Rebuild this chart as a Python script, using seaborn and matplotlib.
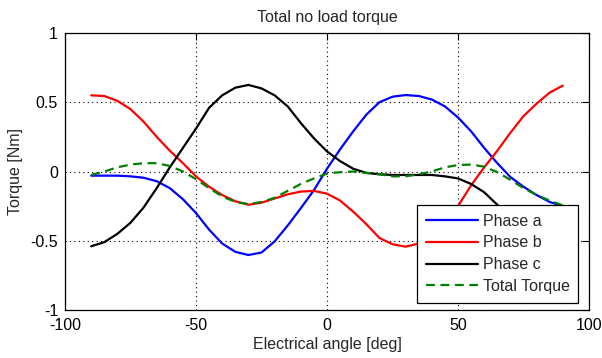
import numpy as np
import pandas as pd
import matplotlib
matplotlib.use("Agg")
import matplotlib.pyplot as plt
import seaborn as sns

angle = [-90, -85, -80, -75, -70, -65, -60, -55, -50, -45, -40, -35, -30, -25, -20,
         -15, -10, -5, 0, 5, 10, 15, 20, 25, 30, 35, 40, 45, 50, 55, 60, 65, 70, 75,
         80, 85, 90]
phase_a = [-0.03, -0.03, -0.03, -0.035, -0.045, -0.07, -0.12, -0.20, -0.30, -0.42,
           -0.52, -0.58, -0.603, -0.585, -0.505, -0.39, -0.265, -0.135, 0.02, 0.16,
           0.29, 0.41, 0.50, 0.54, 0.552, 0.545, 0.52, 0.47, 0.39, 0.29, 0.17, 0.06,
           -0.04, -0.11, -0.17, -0.22, -0.25]
phase_b = [0.55, 0.545, 0.51, 0.45, 0.36, 0.25, 0.15, 0.06, -0.035, -0.11, -0.17,
           -0.215, -0.24, -0.225, -0.195, -0.165, -0.145, -0.14, -0.16, -0.21, -0.29,
           -0.38, -0.48, -0.525, -0.543, -0.52, -0.45, -0.35, -0.25, -0.10, 0.03, 0.15,
           0.28, 0.40, 0.49, 0.57, 0.62]
phase_c = [-0.54, -0.51, -0.45, -0.37, -0.26, -0.12, 0.03, 0.17, 0.31, 0.46, 0.55,
           0.605, 0.625, 0.60, 0.55, 0.47, 0.35, 0.24, 0.145, 0.075, 0.02, -0.01, -0.02,
           -0.025, -0.025, -0.025, -0.025, -0.035, -0.05, -0.09, -0.15, -0.24, -0.36,
           -0.46, -0.52, -0.55, -0.55]
total = [-0.025, 0.0, 0.03, 0.05, 0.06, 0.06, 0.04, 0.0, -0.055, -0.12, -0.18, -0.22,
         -0.235, -0.22, -0.19, -0.14, -0.09, -0.05, -0.015, -0.005, 0.0, -0.01,
         -0.02, -0.035, -0.035, -0.02, 0.0, 0.03, 0.047, 0.05, 0.035, -0.005, -0.06,
         -0.12, -0.17, -0.21, -0.245]
series_names = ["Phase a", "Phase b", "Phase c", "Total Torque"]
x_ticks = [-100, -50, 0, 50, 100]
y_ticks = [-1, -0.5, 0, 0.5, 1]
y_tick_labels = ["-1", "-0.5", "0", "0.5", "1"]

sns.set_style("white")
plt.rcParams["font.family"] = ["Liberation Sans", "DejaVu Sans"]
plt.rcParams["axes.unicode_minus"] = False

fig = plt.figure(figsize=(6.02, 3.58), dpi=100)
ax = fig.add_axes([65 / 602, 1 - 310 / 358, 524 / 602, 277 / 358])

styles = [("#0000ff", "-"), ("#ff0000", "-"), ("#000000", "-"), ("#008000", "--")]
handles = []
for name, vals, (col, ls) in zip(series_names, [phase_a, phase_b, phase_c, total], styles):
    df = pd.DataFrame({"angle": angle, "torque": vals})
    sns.lineplot(data=df, x="angle", y="torque", ax=ax, color=col, linestyle=ls,
                 linewidth=1.6, label=name, legend=False)
    if ls == "--":
        ax.lines[-1].set_dashes((4, 2.5))
    handles.append(ax.lines[-1])

ax.set_xlim(-100, 100)
ax.set_ylim(-1, 1)
ax.set_xticks(x_ticks)
ax.set_yticks(y_ticks)
ax.set_yticklabels(y_tick_labels)
ax.grid(True, color="black", linestyle=(0, (1, 3)), linewidth=0.8)
ax.tick_params(direction="in", length=5, width=0.8, top=True, right=True,
               labelsize=11.5, colors="black")
ax.tick_params(axis="x", pad=6)
ax.tick_params(axis="y", pad=5)
for s in ax.spines.values():
    s.set_visible(True)
    s.set_color("black")
    s.set_linewidth(0.9)

ax.set_title("Total no load torque", fontsize=11.5, pad=8)
ax.set_xlabel("Electrical angle [deg]", fontsize=11.5, labelpad=3)
ax.set_ylabel("Torque [Nm]", fontsize=11.5, labelpad=5)

leg = ax.legend(handles, series_names, loc="lower right", fontsize=11.5,
                handlelength=3.25, handletextpad=0.3, borderpad=0.55,
                labelspacing=0.42, fancybox=False, framealpha=1, borderaxespad=0,
                edgecolor="black", bbox_to_anchor=(0.9796, 0.0264))
leg.get_frame().set_linewidth(0.9)

fig.savefig("out.png", dpi=100)
